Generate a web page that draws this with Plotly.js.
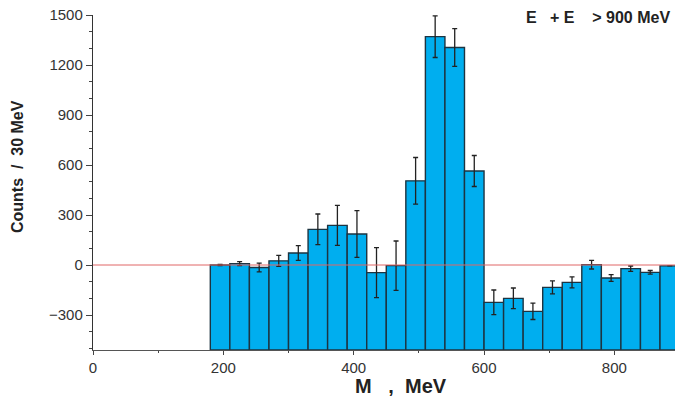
<!DOCTYPE html>
<html>
<head>
<meta charset="utf-8">
<script src="https://cdn.plot.ly/plotly-3.0.1.min.js"></script>
<style>html,body{margin:0;padding:0;background:#fff;}#chart{width:675px;height:403px;}</style>
</head>
<body>
<div id="chart"></div>
<script>
// Bin centres (MeV), 30 MeV bins
const binCenters = [195, 225, 255, 285, 315, 345, 375, 405, 435, 465, 495, 525, 555, 585, 615, 645, 675, 705, 735, 765, 795, 825, 855, 885];
const counts     = [0, 8, -15, 25, 72, 214, 238, 186, -46, -4, 505, 1370, 1305, 564, -224, -200, -278, -134, -104, 2, -78, -22, -44, -5];
const errors     = [3, 12, 26, 33, 44, 92, 120, 140, 150, 148, 140, 125, 113, 93, 74, 62, 49, 39, 33, 26, 20, 16, 11, 0];
const yTickVals  = [-300, 0, 300, 600, 900, 1200, 1500];
const xTickVals  = [0, 200, 400, 600, 800];

const yBottom = -510;
const FONT = 'Liberation Sans, Arial, sans-serif';

const trace = {
  type: 'bar',
  x: binCenters,
  y: counts.map(v => v - yBottom),
  base: yBottom,
  width: 30,
  marker: {color: '#00aeef', line: {color: '#1d3441', width: 1.4}},
  error_y: {type: 'data', array: errors, visible: true, color: '#222', thickness: 1.3, width: 2.5},
  hoverinfo: 'skip'
};
const layout = {
  width: 675, height: 403,
  margin: {l: 93, r: 0, t: 15, b: 53},
  paper_bgcolor: '#fff', plot_bgcolor: '#fff',
  showlegend: false,
  bargap: 0,
  font: {family: FONT, color: '#333'},
  xaxis: {
    range: [0, 893], showgrid: false, zeroline: false,
    showline: true, linecolor: '#555', linewidth: 1.2,
    tickmode: 'array', tickvals: xTickVals,
    ticks: 'outside', ticklen: 4, tickcolor: '#444',
    minor: {dtick: 100, tick0: 0, ticks: 'outside', ticklen: 2, tickcolor: '#444'},
    tickfont: {size: 15, color: '#333'}
  },
  yaxis: {
    range: [yBottom, 1500], showgrid: false, zeroline: false,
    showline: true, linecolor: '#333', linewidth: 1.2,
    tickmode: 'array', tickvals: yTickVals,
    ticks: 'outside', ticklen: 6, tickcolor: '#444',
    minor: {dtick: 100, tick0: 0, ticks: 'outside', ticklen: 3, tickcolor: '#444'},
    tickfont: {size: 15, color: '#333'}
  },
  shapes: [{
    type: 'line', xref: 'x', yref: 'y', x0: 0, x1: 893, y0: 0, y1: 0,
    line: {color: '#e06666', width: 1}, layer: 'above'
  }],
  annotations: [
    {
      xref: 'paper', yref: 'paper', x: 0.995, y: 0.994, xanchor: 'right', yanchor: 'middle',
      text: '<b>E&nbsp;&nbsp;&nbsp;+ E&nbsp;&nbsp;&nbsp;&nbsp;> 900 MeV</b>', showarrow: false,
      font: {size: 16, color: '#222', family: FONT}
    },
    {
      xref: 'paper', yref: 'paper', x: 0.529, y: -0.1075, xanchor: 'center', yanchor: 'middle',
      text: '<b>M&nbsp;&nbsp;&nbsp;,&nbsp;&nbsp;MeV</b>', showarrow: false,
      font: {size: 20, color: '#222', family: FONT}
    },
    {
      xref: 'paper', yref: 'paper', x: -0.1306, y: 0.549, xanchor: 'center', yanchor: 'middle',
      text: '<b>Counts&nbsp;&nbsp;/&nbsp;&nbsp;30 MeV</b>', showarrow: false, textangle: -90,
      font: {size: 16, color: '#222', family: FONT}
    }
  ]
};
Plotly.newPlot('chart', [trace], layout, {staticPlot: true, displayModeBar: false});
</script>
</body>
</html>
